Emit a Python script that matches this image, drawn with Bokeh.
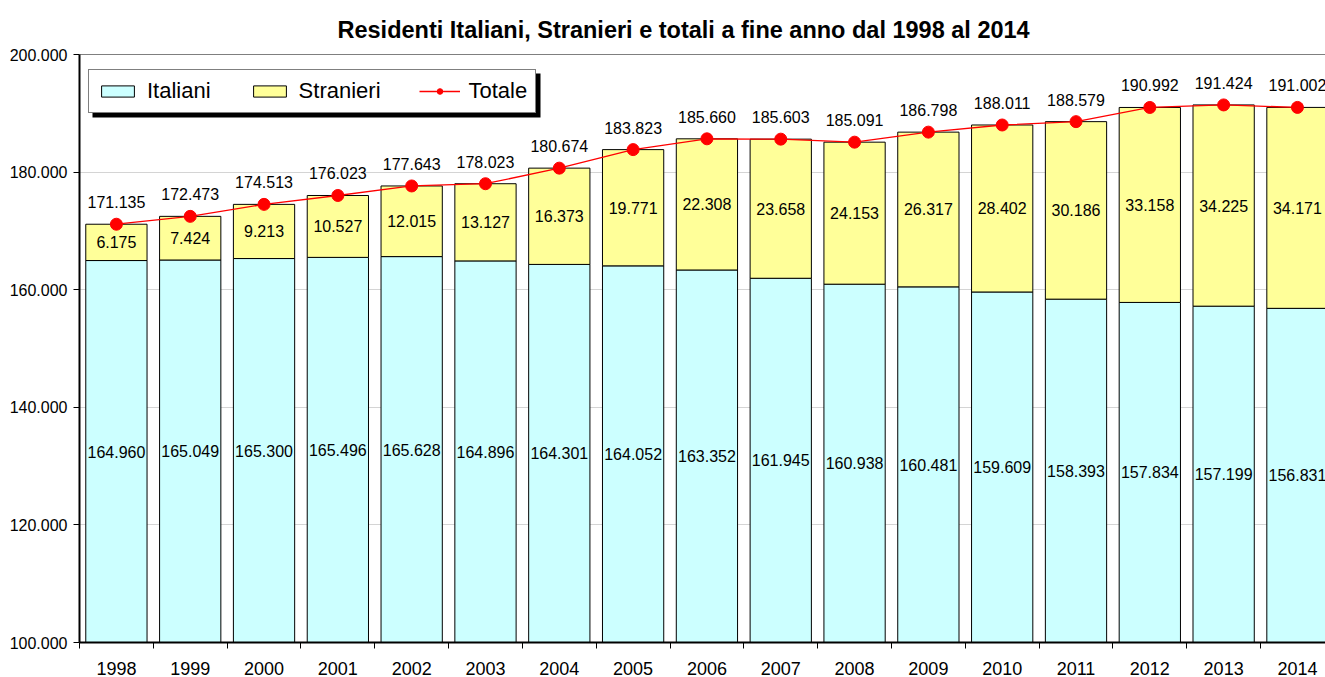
from bokeh.plotting import figure
from bokeh.models import FixedTicker, ColumnDataSource, LabelSet, BoxAnnotation, Range1d, Span
from bokeh.core.properties import value
from bokeh.embed import file_html
from bokeh.resources import INLINE

anni = [1998, 1999, 2000, 2001, 2002, 2003, 2004, 2005, 2006, 2007, 2008,
        2009, 2010, 2011, 2012, 2013, 2014]
italiani = [164960, 165049, 165300, 165496, 165628, 164896, 164301, 164052, 163352,
            161945, 160938, 160481, 159609, 158393, 157834, 157199, 156831]
stranieri = [6175, 7424, 9213, 10527, 12015, 13127, 16373, 19771, 22308,
             23658, 24153, 26317, 28402, 30186, 33158, 34225, 34171]
totale = [171135, 172473, 174513, 176023, 177643, 178023, 180674, 183823, 185660,
          185603, 185091, 186798, 188011, 188579, 190992, 191424, 191002]
y_ticks = [100000, 120000, 140000, 160000, 180000, 200000]

FONT = "Liberation Sans"
Y0, Y1 = y_ticks[0], y_ticks[-1]

W, H = 1325, 677
B_LEFT, B_TOP, B_BOTTOM = 79, 54, 35
FRAME_H = H - B_TOP - B_BOTTOM


def fmt(v):
    return f"{v:,}".replace(",", ".")


src = ColumnDataSource(dict(
    anno=anni,
    italiani=italiani,
    stranieri=stranieri,
    totale=totale,
    it_mid=[(Y0 + i) / 2 for i in italiani],
    st_mid=[i + s / 2 for i, s in zip(italiani, stranieri)],
    it_lbl=[fmt(v) for v in italiani],
    st_lbl=[fmt(v) for v in stranieri],
    tot_lbl=[fmt(v) for v in totale],
))

p = figure(width=W, height=H, output_backend="svg", toolbar_location=None,
           x_range=Range1d(anni[0] - 0.5, anni[-1] + 0.38),
           y_range=Range1d(Y0, Y1),
           min_border_left=B_LEFT, min_border_right=0,
           min_border_top=B_TOP, min_border_bottom=B_BOTTOM,
           title="Residenti Italiani, Stranieri e totali a fine anno dal 1998 al 2014")

p.title.align = "left"
p.title.offset = 258
p.title.standoff = 23
p.title.text_font = FONT
p.title.text_font_size = "23.5px"
p.title.text_font_style = "bold"
p.title.text_color = "black"

p.outline_line_color = None
p.background_fill_color = "white"

# legend shadow (screen units relative to the frame's bottom-left)
LEG_X, LEG_TOP, LEG_W, LEG_H = 9, 15, 448, 44
LEG_Y = FRAME_H - LEG_TOP - LEG_H
shadow = BoxAnnotation(left=LEG_X + 4, right=LEG_X + LEG_W + 4,
                       bottom=LEG_Y - 4, top=LEG_Y + LEG_H - 4,
                       left_units="screen", right_units="screen",
                       top_units="screen", bottom_units="screen",
                       fill_color="black", fill_alpha=1.0, line_color=None)
p.add_layout(shadow)

p.vbar(x="anno", top="italiani", bottom=Y0, width=0.83, source=src,
       fill_color="#CCFFFF", line_color="black", line_width=1, legend_label="Italiani")
p.vbar(x="anno", top="totale", bottom="italiani", width=0.83, source=src,
       fill_color="#FFFF99", line_color="black", line_width=1, legend_label="Stranieri")
p.line(x="anno", y="totale", source=src, line_color="#FF0000", line_width=1.3,
       legend_label="Totale")
p.scatter(x="anno", y="totale", source=src, size=12, fill_color="#FF0000",
          line_color="#FF0000", legend_label="Totale")

lbl_kw = dict(source=src, text_align="center", text_baseline="middle",
              text_font=value(FONT), text_font_size="16px", text_color="black")
p.add_layout(LabelSet(x="anno", y="it_mid", text="it_lbl", **lbl_kw))
p.add_layout(LabelSet(x="anno", y="st_mid", text="st_lbl", **lbl_kw))
p.add_layout(LabelSet(x="anno", y="totale", text="tot_lbl", y_offset=22, **lbl_kw))

# top border of the plot area
p.add_layout(Span(location=Y1, dimension="width", line_color="black", line_width=1))

# axes
p.xaxis.ticker = FixedTicker(ticks=anni, minor_ticks=[a - 0.5 for a in anni])
p.xaxis.major_label_overrides = {a: str(a) for a in anni}
p.xaxis.major_tick_out = 0
p.xaxis.major_tick_in = 0
p.xaxis.minor_tick_out = 6
p.xaxis.minor_tick_in = 0
p.xaxis.minor_tick_line_color = "black"
p.xaxis.major_label_standoff = 13
p.xaxis.major_label_text_font_size = "18px"

p.yaxis.ticker = FixedTicker(ticks=y_ticks, minor_ticks=[])
p.yaxis.major_label_overrides = {v: fmt(v) for v in y_ticks}
p.yaxis.major_tick_out = 6
p.yaxis.major_tick_in = 0
p.yaxis.minor_tick_out = 0
p.yaxis.major_label_standoff = 6
p.yaxis.major_label_text_font_size = "16px"

for ax in (p.xaxis, p.yaxis):
    ax.axis_line_color = "black"
    ax.axis_line_width = 2
    ax.major_tick_line_color = "black"
    ax.major_label_text_font = FONT
    ax.major_label_text_color = "black"

p.xgrid.grid_line_color = None
p.ygrid.ticker = FixedTicker(ticks=y_ticks)
p.ygrid.grid_line_color = "#D4D4D4"
p.ygrid.grid_line_width = 1

leg = p.legend[0]
leg.orientation = "horizontal"
leg.location = (LEG_X, LEG_Y)
leg.margin = 0
leg.padding = 8
leg.spacing = 38
leg.label_standoff = 9
leg.glyph_width = 41
leg.glyph_height = 14
leg.label_text_font = FONT
leg.label_text_font_size = "22px"
leg.label_text_color = "black"
leg.border_line_color = "black"
leg.border_line_width = 1
leg.background_fill_color = "white"
leg.background_fill_alpha = 1.0

open("out.html", "w").write(file_html(p, INLINE))
